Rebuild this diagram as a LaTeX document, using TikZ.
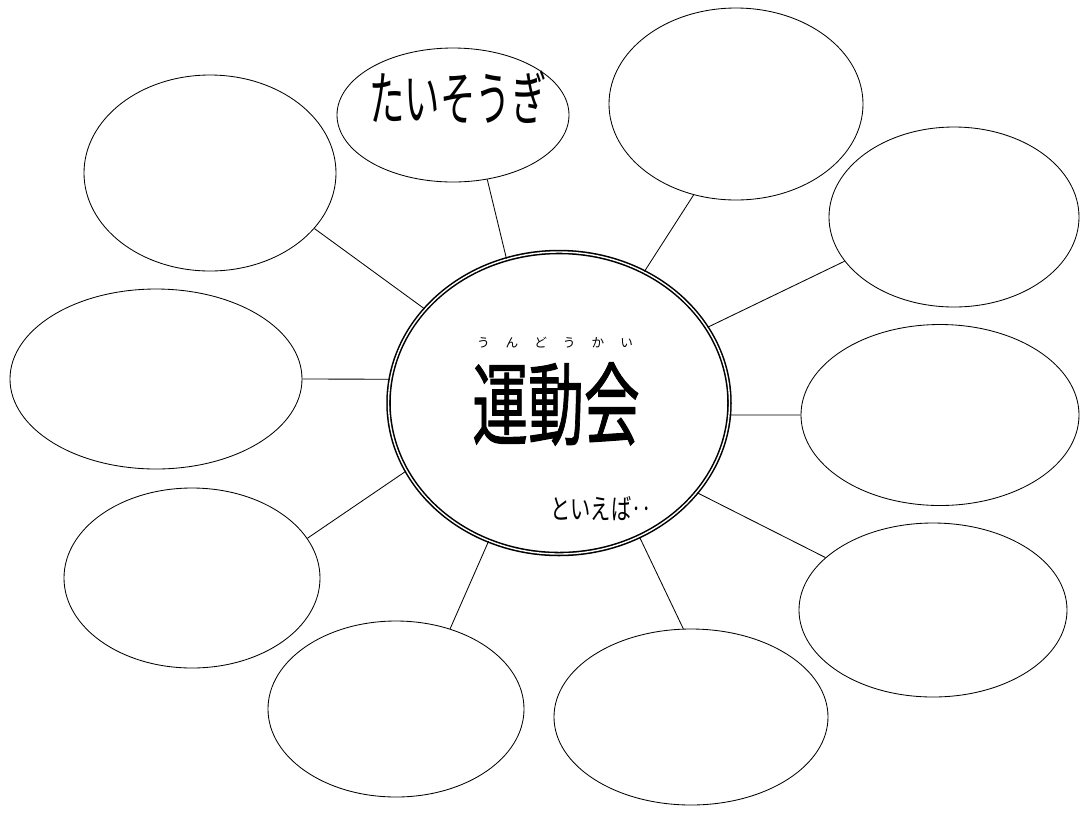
\documentclass[tikz,border=0pt]{standalone}
\usepackage{fontspec}
\usepackage{graphicx}
\newfontfamily\jpfont{Noto Sans CJK JP}
\newfontfamily\jpheavy[FakeBold=1.2]{Noto Sans CJK JP}
\usetikzlibrary{shapes.geometric}
\tikzset{
bubble/.style 2 args={draw, ellipse, line width=0.6pt, inner sep=0pt,
	minimum width=#1*0.025cm, minimum height=#2*0.025cm},
hub/.style={draw, ellipse, double, line width=1.1pt, double distance=1pt,
	inner sep=0pt, minimum width=341*0.025cm, minimum height=302*0.025cm},
spoke/.style={line width=0.6pt},
jptext/.style={font=\jpfont\fontsize{#1}{#1}\selectfont, inner sep=0pt},
}

\begin{document}
\begin{tikzpicture}[x=0.025cm, y=-0.025cm]
	\useasboundingbox (0,0) rectangle (1080,812);
	\node[hub] (main) at (559,403) {};
	
	%
	\node[bubble={232}{134}] (top) at (453,115) {};
	\node[bubble={254}{192}] (topright) at (736,104) {};
	\node[bubble={252}{196}] (topleft) at (210,173) {};
	\node[bubble={250}{180}] (rightup) at (954,217) {};
	\node[bubble={292}{180}] (leftmid) at (156,379) {};
	\node[bubble={278}{181}] (rightmid) at (940,415) {};
	\node[bubble={256}{180}] (leftlow) at (192,578) {};
	\node[bubble={268}{174}] (rightlow) at (933,610) {};
	\node[bubble={256}{176}] (botleft) at (396,709) {};
	\node[bubble={274}{176}] (botmid) at (691,717) {};
	
	%
	\draw[spoke] (main.110) -- (top.-62);
	\draw[spoke] (main.57) -- (topright.245);
	\draw[spoke] (main.145) -- (topleft.-28);
	\draw[spoke] (main.27) -- (rightup.202);
	\draw[spoke] (main.172) -- (leftmid.0);
	\draw[spoke] (main.-4) -- (rightmid.180);
	\draw[spoke] (main.204) -- (leftlow.19);
	\draw[spoke] (main.-33) -- (rightlow.154);
	\draw[spoke] (main.243) -- (botleft.56);
	\draw[spoke] (main.-59) -- (botmid.95);
	
	%
	\node[jptext=42] (taiso) at (458,97) {\scalebox{0.6}[1]{たいそうぎ}};
	\node[jptext=9] (ruby) at (555,343)
		{う\hspace{0.4cm}ん\hspace{0.4cm}ど\hspace{0.4cm}う\hspace{0.4cm}か\hspace{0.4cm}い};
	\node[jptext=64] (title) at (556,404) {\jpheavy\scalebox{0.62}[1]{運動会}};
	\node[jptext=20] (ieba) at (601,509) {\scalebox{0.72}[1]{といえば‥}};
\end{tikzpicture}
\end{document}
